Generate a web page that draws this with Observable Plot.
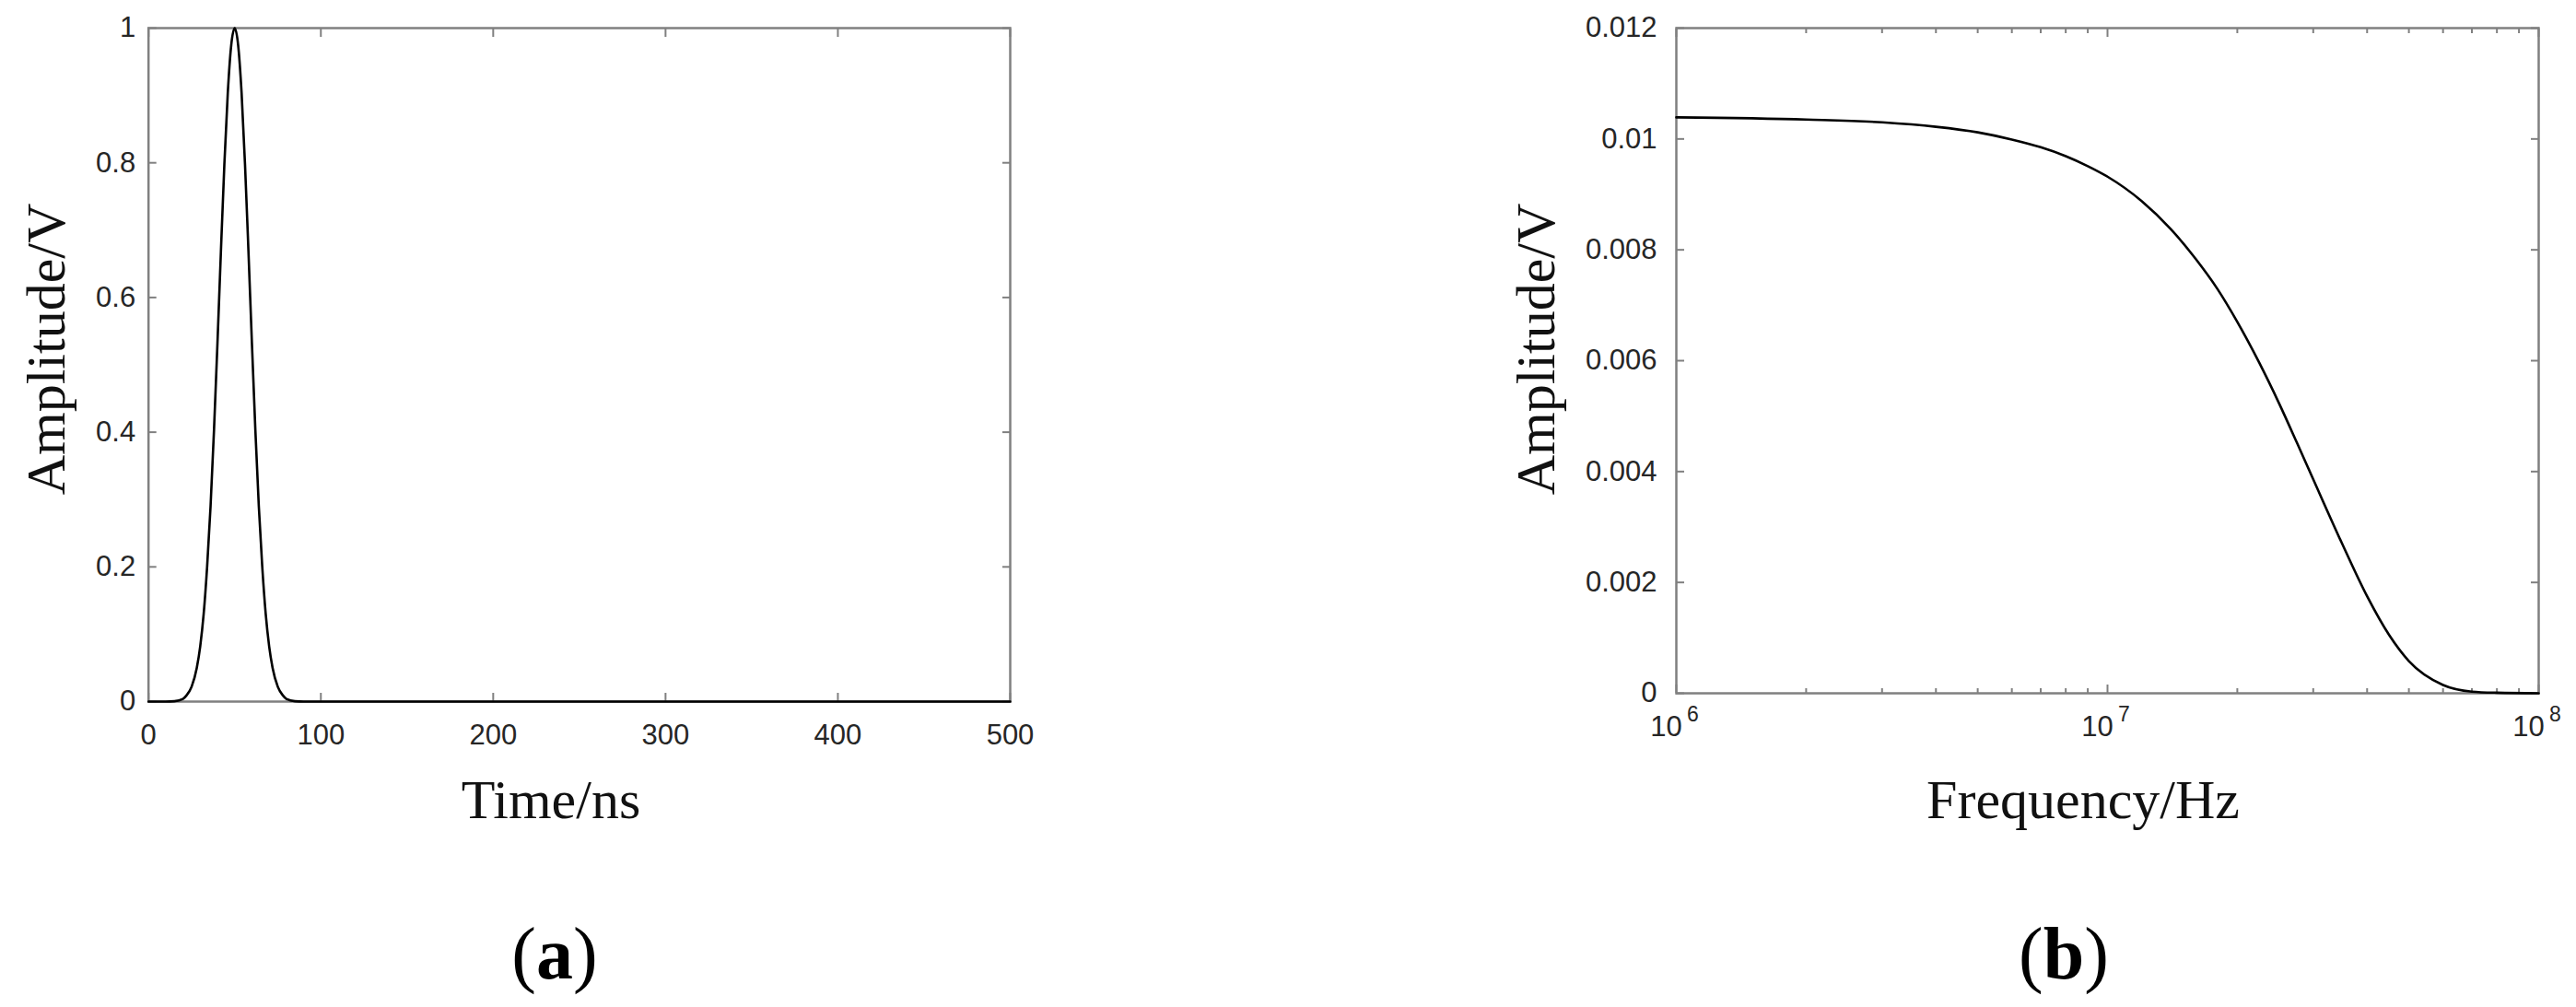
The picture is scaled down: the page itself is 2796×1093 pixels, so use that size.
<!DOCTYPE html>
<html><head><meta charset="utf-8">
<script src="https://cdn.jsdelivr.net/npm/d3@7"></script>
<script src="https://cdn.jsdelivr.net/npm/@observablehq/plot@0.6"></script>
<style>
html,body{margin:0;padding:0;background:#fff;}
#page{position:relative;width:2796px;height:1093px;overflow:hidden;background:#fff;}
#pa{position:absolute;left:0;top:0;width:1200px;height:830px;}
#pb{position:absolute;left:1500px;top:0;width:1296px;height:830px;}
#labels{position:absolute;left:0;top:0;pointer-events:none;}
</style></head><body>
<div id="page"><div id="pa"></div><div id="pb"></div><svg id="labels" width="2796" height="1093"></svg></div>
<script>
// ---------- data: panel (a) Gaussian pulse, time domain ----------
const timeNs = [0, 10, 15, 20, 22, 25, 28, 30, 32, 34, 36, 38, 40, 42, 44, 46, 48, 50, 52, 54, 56, 58, 60, 62, 64, 66, 68, 70, 72, 75, 78, 80, 85, 90, 100, 200, 300, 400, 500];
const pulseV = [0, 0, 0.0005, 0.004, 0.009, 0.022, 0.05, 0.082, 0.13, 0.2, 0.29, 0.403, 0.532, 0.668, 0.797, 0.904, 0.975, 1, 0.975, 0.904, 0.797, 0.668, 0.532, 0.403, 0.29, 0.2, 0.13, 0.082, 0.05, 0.022, 0.009, 0.004, 0.0005, 0, 0, 0, 0, 0, 0];
const xTicksA = [0, 100, 200, 300, 400, 500];
const yTicksA = [0, 0.2, 0.4, 0.6, 0.8, 1];

// ---------- data: panel (b) amplitude spectrum ----------
const freqHz = [1e6, 2e6, 3e6, 4e6, 5e6, 6e6, 7e6, 8e6, 9e6, 1e7, 1.2e7, 1.4e7, 1.6e7, 1.8e7, 2e7, 2.25e7, 2.5e7, 2.75e7, 3e7, 3.5e7, 4e7, 4.5e7, 5e7, 6e7, 7e7, 8e7, 1e8];
const specV = [0.01039, 0.01035, 0.0103, 0.01022, 0.01012, 0.00999, 0.00985, 0.00969, 0.00951, 0.00932, 0.00888, 0.00838, 0.00784, 0.00729, 0.0067, 0.00596, 0.00523, 0.00452, 0.00386, 0.0027, 0.00175, 0.00105, 0.00058, 0.00015, 0.00003, 0.00001, 0];
const xMajorB = [1e6, 1e7, 1e8];
const xExpB = [6, 7, 8];
const xMinorB = [2e6, 3e6, 4e6, 5e6, 6e6, 7e6, 8e6, 9e6, 2e7, 3e7, 4e7, 5e7, 6e7, 7e7, 8e7, 9e7];
const yTicksB = [0, 0.002, 0.004, 0.006, 0.008, 0.01, 0.012];

const axisGray = "#808080";
const tickText = "#262626";
const sans = "'Liberation Sans', Arial, Helvetica, sans-serif";
const serif = "'Liberation Serif', 'Times New Roman', serif";

const tableA = timeNs.map((t, i) => ({t, v: pulseV[i]}));
const tableB = freqHz.map((f, i) => ({f, v: specV[i]}));

function inwardTicks(scaleKind, ticks, size, stroke) {
  if (scaleKind === "x") return [
    Plot.axisX(ticks, {anchor: "bottom", tickSize: size, dy: -size, fill: "none", stroke, strokeWidth: 2, label: null}),
    Plot.axisX(ticks, {anchor: "top", tickSize: size, dy: size, fill: "none", stroke, strokeWidth: 2, label: null})
  ];
  return [
    Plot.axisY(ticks, {anchor: "left", tickSize: size, dx: size, fill: "none", stroke, strokeWidth: 2, label: null}),
    Plot.axisY(ticks, {anchor: "right", tickSize: size, dx: -size, fill: "none", stroke, strokeWidth: 2, label: null})
  ];
}

const plotA = Plot.plot({
  width: 1200, height: 830,
  marginLeft: 160.7, marginRight: 104, marginTop: 30, marginBottom: 69,
  style: {fontFamily: sans, fontSize: "31px", background: "transparent", overflow: "visible"},
  x: {domain: [0, 500]},
  y: {domain: [0, 1]},
  marks: [
    Plot.frame({stroke: axisGray, strokeWidth: 2.5}),
    ...inwardTicks("x", xTicksA, 9, axisGray),
    ...inwardTicks("y", yTicksA, 9, axisGray),
    Plot.axisX(xTicksA, {anchor: "bottom", tickSize: 0, tickPadding: 24, tickFormat: d => String(d), fill: tickText, label: null, fontSize: 31}),
    Plot.axisY(yTicksA, {anchor: "left", tickSize: 0, tickPadding: 14, tickFormat: d => String(d), fill: tickText, label: null, fontSize: 31}),
    Plot.line(tableA, {x: "t", y: "v", stroke: "#000", strokeWidth: 2.6, curve: "monotone-x"})
  ]
});
document.getElementById("pa").appendChild(plotA);

const plotB = Plot.plot({
  width: 1296, height: 830,
  marginLeft: 319, marginRight: 41, marginTop: 30, marginBottom: 78,
  style: {fontFamily: sans, fontSize: "31px", background: "transparent", overflow: "visible"},
  x: {type: "log", domain: [1e6, 1e8]},
  y: {domain: [0, 0.012]},
  marks: [
    Plot.frame({stroke: axisGray, strokeWidth: 2.5}),
    ...inwardTicks("x", xMajorB, 9, axisGray),
    ...inwardTicks("x", xMinorB, 5, axisGray),
    ...inwardTicks("y", yTicksB, 9, axisGray),
    Plot.axisY(yTicksB, {anchor: "left", tickSize: 0, tickPadding: 21, tickFormat: d => String(d), fill: tickText, label: null, fontSize: 31}),
    Plot.text(xExpB, {x: e => 10 ** e, text: () => "10", frameAnchor: "bottom", dy: 46, dx: -11, fill: tickText, fontSize: 31}),
    Plot.text(xExpB, {x: e => 10 ** e, text: e => String(e), frameAnchor: "bottom", dy: 30, dx: 18, fill: tickText, fontSize: 23}),
    Plot.line(tableB, {x: "f", y: "v", stroke: "#000", strokeWidth: 2.6, curve: "monotone-x"})
  ]
});
document.getElementById("pb").appendChild(plotB);

// ---------- titles / axis labels ----------
const svg = d3.select("#labels");
const lab = (x, y, txt, rot) => svg.append("text")
  .attr("transform", `translate(${x},${y})` + (rot ? ` rotate(${rot})` : ""))
  .attr("text-anchor", "middle").attr("font-family", serif).attr("font-size", 60).attr("fill", "#111")
  .text(txt);
lab(70, 379, "Amplitude/V", -90);
lab(1687, 379, "Amplitude/V", -90);
lab(598, 888, "Time/ns");
lab(2261, 888, "Frequency/Hz");
const panel = (x, letter) => {
  const t = svg.append("text").attr("x", x).attr("y", 1062).attr("text-anchor", "middle")
    .attr("font-family", serif).attr("font-size", 80).attr("fill", "#000");
  t.append("tspan").text("(");
  t.append("tspan").attr("font-weight", "bold").text(letter);
  t.append("tspan").text(")");
};
panel(602, "a");
panel(2240, "b");
</script>
</body></html>
